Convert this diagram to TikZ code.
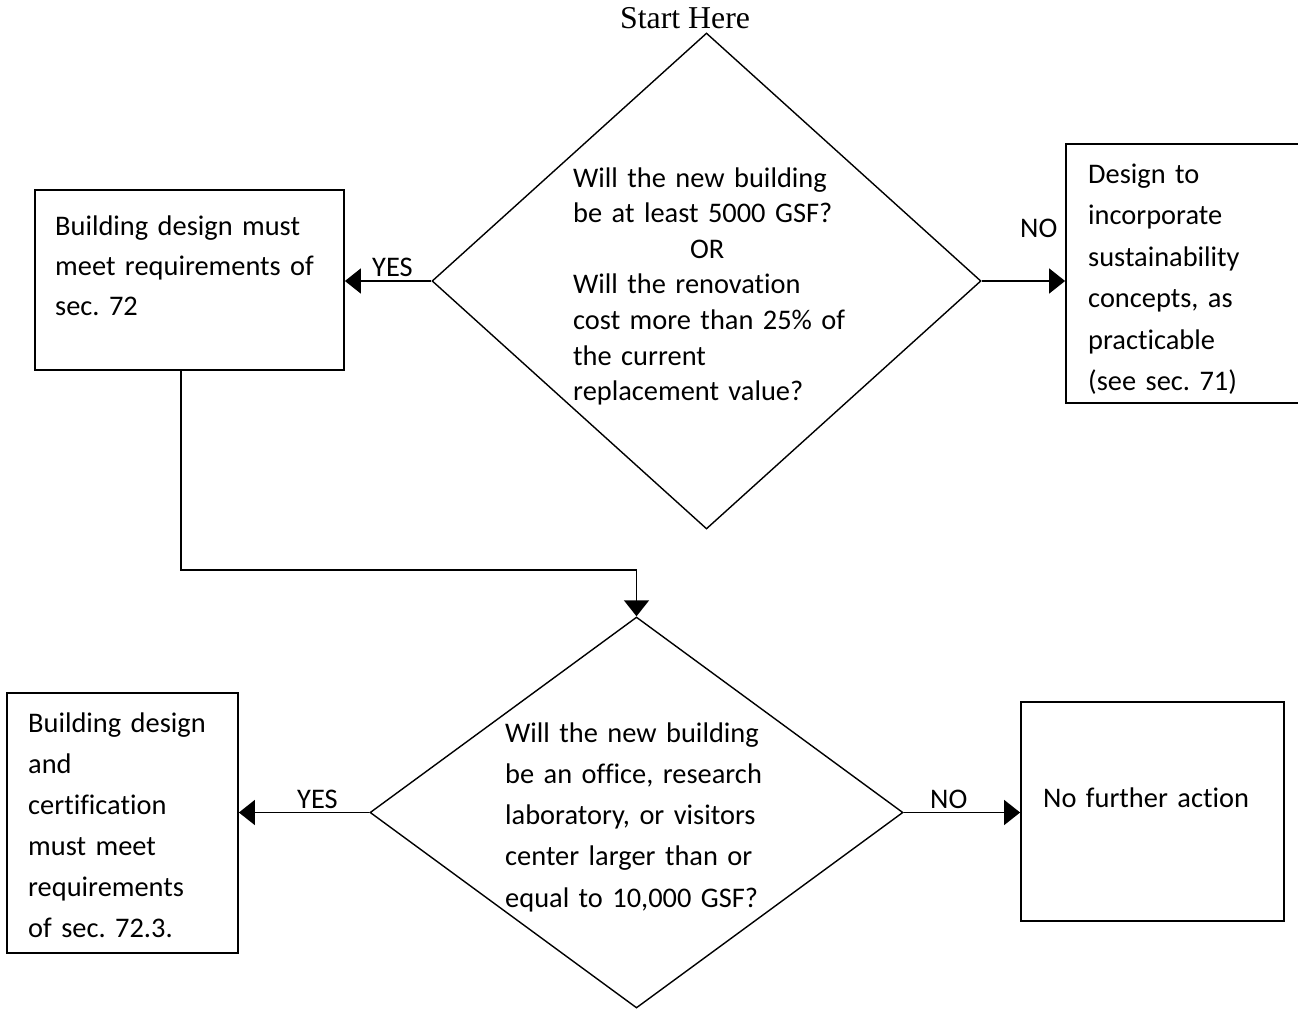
\documentclass[tikz,border=0pt]{standalone}
\usepackage{fontspec}
\setmainfont{Carlito}[Ligatures=NoCommon]
\newfontfamily\startfont{Liberation Serif}
\usetikzlibrary{arrows.meta,shapes.geometric}
\frenchspacing
\begin{document}
\begin{tikzpicture}[x=1pt,y=-1pt,
  box/.style={draw,line width=1.8pt,rectangle,inner sep=0pt},
  dia/.style={draw,line width=1.4pt,diamond,inner sep=0pt},
  arr/.style={line width=1.6pt,-{Triangle[length=16pt,width=25pt]}},
  txt/.style={anchor=base west,inner sep=0pt,text width=400pt,align=left},
  lbl/.style={anchor=base west,inner sep=0pt,font=\fontsize{28.4}{35}\selectfont}]
\useasboundingbox (0,0) rectangle (1298,1009);
\clip (0,0) rectangle (1298,1009);
% shapes
\node[dia,minimum width=549pt,minimum height=496pt] (d1) at (706.5,281) {};
\node[dia,minimum width=533pt,minimum height=391pt] (d2) at (636.5,812.5) {};
\node[box,minimum width=309pt,minimum height=180pt] (b1) at (189.5,280) {};
\node[box,minimum width=260pt,minimum height=259pt] (b2) at (1196,273.5) {};
\node[box,minimum width=231pt,minimum height=260pt] (b3) at (122.5,823) {};
\node[box,minimum width=263pt,minimum height=219pt] (b4) at (1152.5,811.5) {};
% texts
\node[anchor=base west,inner sep=0pt,font=\startfont\fontsize{31.8}{36}\selectfont] (start) at (620,28) {Start Here};
\node[txt,font=\fontsize{28.4}{35.6}\selectfont] (t1) at (573,187)
  {Will the new building\\be at least 5000 GSF?\\\makebox[268pt]{OR}\\Will the renovation\\cost more than 25\% of\\the current\\replacement value?};
\node[txt,font=\fontsize{28.4}{40}\selectfont] (tb1) at (55,235)
  {Building design must\\meet requirements of\\sec. 72};
\node[txt,font=\fontsize{28.4}{41.5}\selectfont] (tb2) at (1088,183)
  {Design to\\incorporate\\sustainability\\concepts, as\\practicable\\(see sec. 71)};
\node[txt,font=\fontsize{28.4}{41.3}\selectfont] (t2) at (505,742)
  {Will the new building\\be an office, research\\laboratory, or visitors\\center larger than or\\equal to 10,000 GSF?};
\node[txt,font=\fontsize{28.4}{41}\selectfont] (tb3) at (28,732)
  {Building design\\and\\certification\\must meet\\requirements\\of sec. 72.3.};
\node[txt,font=\fontsize{28.4}{41}\selectfont] (tb4) at (1043,807) {No further action};
% connectors
\draw[arr] (d1.west) -- (d1.west -| b1.east);
\draw[arr] (d1.east) -- (d1.east -| b2.west);
\draw[arr] ([xshift=-8.5pt]b1.south) -- ++(0,199) -| (d2.north);
\draw[arr] (d2.west) -- (d2.west -| b3.east);
\draw[arr] (d2.east) -- (d2.east -| b4.west);
% labels
\node[lbl] (yes1) at (372,276) {YES};
\node[lbl] (no1) at (1020,237) {NO};
\node[lbl] (yes2) at (297,808) {YES};
\node[lbl] (no2) at (930,808) {NO};
\end{tikzpicture}
\end{document}
